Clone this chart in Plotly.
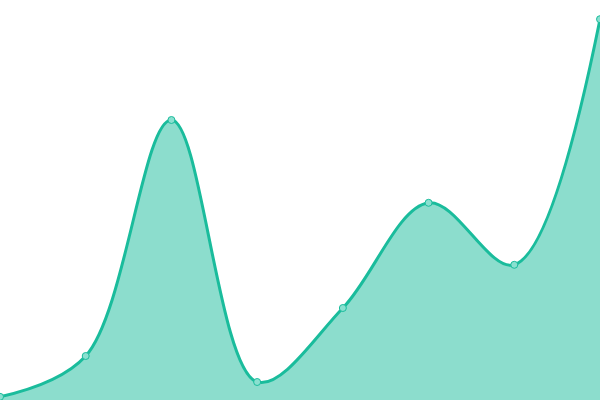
import plotly.graph_objects as go

# data
x_vals = [0, 1, 2, 3, 4, 5, 6, 7]
y_vals = [0.8, 11, 70, 4.5, 23, 49.3, 33.8, 95.2]

LINE = "#1abc9c"

fig = go.Figure()
fig.add_trace(
    go.Scatter(
        x=x_vals, y=y_vals,
        mode="lines+markers",
        line=dict(color=LINE, width=3, shape="spline", smoothing=1),
        fill="tozeroy",
        fillcolor="rgba(26,188,156,0.5)",
        marker=dict(size=7, color="#8ae0d0", line=dict(color=LINE, width=1)),
        hoverinfo="x+y",
    )
)

fig.update_layout(
    width=600, height=400,
    margin=dict(l=0, r=0, t=0, b=0),
    paper_bgcolor="white", plot_bgcolor="white",
    showlegend=False,
)
fig.update_xaxes(range=[0, 7], visible=False)
fig.update_yaxes(range=[0, 100], visible=False)

# drop the browser's default body margin so the plot sits flush in the window
fig.write_html(
    "out.html",
    config={"displayModeBar": False},
    post_script="document.body.style.margin='0';document.body.style.overflow='hidden';",
)
